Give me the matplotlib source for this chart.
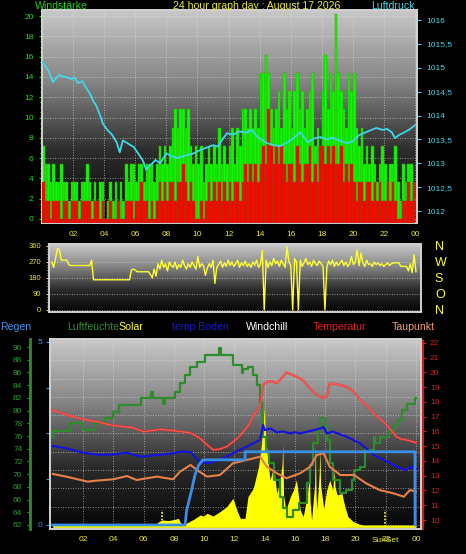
import numpy as np
import matplotlib
matplotlib.use('Agg')
import matplotlib.pyplot as plt
from matplotlib.colors import LinearSegmentedColormap
from matplotlib.ticker import MultipleLocator, FuncFormatter
import matplotlib.transforms as mtransforms

# ---------------------------------------------------------------- data
title = "24 hour graph day : August 17 2026"
hour_ticks = [2, 4, 6, 8, 10, 12, 14, 16, 18, 20, 22, 24]
hour_labels = ['02', '04', '06', '08', '10', '12', '14', '16', '18', '20', '22', '00']

# wind (km/h), one value every 10 minutes
wind_step_h = 1 / 6
gust = [
    7.2, 5.4, 5.4, 3.6, 5.4, 3.6,
    3.6, 5.4, 3.6, 3.6, 1.8, 3.6,
    3.6, 3.6, 1.8, 3.6, 3.6, 5.4,
    3.6, 1.8, 3.6, 1.8, 3.6, 3.6,
    0.0, 1.8, 3.6, 1.8, 3.6, 1.8,
    3.6, 1.8, 5.4, 3.6, 5.4, 5.4,
    3.6, 5.4, 5.4, 3.6, 5.4, 5.4,
    5.4, 3.6, 5.4, 7.2, 5.4, 7.2,
    5.4, 7.2, 9.0, 10.8, 9.0, 10.8,
    10.8, 9.0, 10.8, 7.2, 5.4, 7.2,
    5.4, 7.2, 3.6, 5.4, 7.2, 5.4,
    7.2, 5.4, 9.0, 5.4, 7.2, 5.4,
    7.2, 9.0, 5.4, 9.0, 7.2, 10.8,
    10.8, 9.0, 10.8, 9.0, 10.8, 9.0,
    14.4, 14.4, 16.2, 14.4, 10.8, 9.0,
    10.8, 12.6, 9.0, 14.4, 10.8, 12.6,
    9.0, 12.6, 14.4, 10.8, 12.6, 9.0,
    10.8, 12.6, 14.4, 7.2, 9.0, 7.2,
    12.6, 16.2, 10.8, 14.4, 12.6, 20.2,
    14.4, 12.6, 10.8, 9.0, 14.4, 12.6,
    14.4, 9.0, 7.2, 9.0, 5.4, 7.2,
    5.4, 7.2, 5.4, 3.6, 5.4, 7.2,
    5.4, 3.6, 5.4, 5.4, 7.2, 3.6,
    1.8, 5.4, 3.6, 5.4, 5.4, 3.6,
]
avg = [
    3.6, 1.8, 1.8, 0.0, 1.8, 1.8,
    1.8, 0.0, 1.8, 1.8, 0.0, 1.8,
    1.8, 1.8, 0.0, 1.8, 1.8, 1.8,
    1.8, 0.0, 1.8, 1.8, 0.0, 1.8,
    0.0, 0.0, 1.8, 0.0, 0.0, 1.8,
    0.0, 0.0, 1.8, 1.8, 1.8, 0.0,
    1.8, 1.8, 3.6, 1.8, 1.8, 0.0,
    1.8, 0.0, 1.8, 3.6, 1.8, 3.6,
    1.8, 3.6, 3.6, 1.8, 3.6, 3.6,
    5.4, 3.6, 1.8, 3.6, 1.8, 0.0,
    0.0, 1.8, 0.0, 1.8, 3.6, 1.8,
    3.6, 1.8, 3.6, 1.8, 3.6, 1.8,
    3.6, 1.8, 3.6, 3.6, 1.8, 3.6,
    5.4, 3.6, 5.4, 3.6, 5.4, 3.6,
    5.4, 7.2, 5.4, 10.8, 7.2, 5.4,
    7.2, 5.4, 7.2, 5.4, 3.6, 5.4,
    5.4, 3.6, 7.2, 5.4, 3.6, 5.4,
    5.4, 7.2, 3.6, 5.4, 3.6, 7.2,
    7.2, 5.4, 7.2, 5.4, 7.2, 5.4,
    5.4, 7.2, 3.6, 5.4, 3.6, 5.4,
    3.6, 1.8, 3.6, 3.6, 1.8, 3.6,
    3.6, 1.8, 3.6, 1.8, 3.6, 1.8,
    1.8, 3.6, 1.8, 3.6, 1.8, 0.0,
    0.0, 1.8, 1.8, 3.6, 1.8, 3.6,
]

# air pressure (hPa)
p_t = [0, 0.2, 0.4, 0.7, 0.9, 1.1, 1.3, 1.6, 1.9, 2.1,
       2.3, 2.6, 2.8, 3.1, 3.3, 3.5, 3.8, 3.9, 4.2, 4.5,
       4.8, 5.0, 5.2, 5.5, 5.9, 6.2, 6.5, 6.7, 6.9, 7.1,
       7.3, 7.6, 8.0, 8.3, 8.7, 9.0, 9.3, 9.7, 10.2, 10.6,
       11.0, 11.3, 11.6, 11.9, 12.3, 12.7, 13.1, 13.5, 13.8, 14.1,
       14.5, 14.9, 15.3, 15.7, 16.2, 16.6, 17.1, 17.5, 17.9, 18.3,
       18.7, 19.2, 19.6, 20.0, 20.4, 20.9, 21.5, 21.9, 22.2, 22.5,
       22.7, 23.0, 23.2, 23.6, 24.0]
pressure = [1015.13, 1015.05, 1014.95, 1014.70, 1014.78, 1014.85, 1014.82, 1014.80, 1014.76, 1014.80,
            1014.68, 1014.72, 1014.60, 1014.45, 1014.30, 1014.20, 1013.95, 1013.84, 1013.70, 1013.60,
            1013.44, 1013.23, 1013.48, 1013.42, 1013.34, 1013.20, 1013.05, 1012.86, 1012.95, 1013.00,
            1013.07, 1013.00, 1013.21, 1013.15, 1013.11, 1013.14, 1013.17, 1013.20, 1013.28, 1013.33,
            1013.38, 1013.35, 1013.50, 1013.63, 1013.60, 1013.67, 1013.64, 1013.70, 1013.57, 1013.50,
            1013.42, 1013.38, 1013.36, 1013.42, 1013.53, 1013.65, 1013.44, 1013.52, 1013.55, 1013.50,
            1013.53, 1013.47, 1013.42, 1013.46, 1013.59, 1013.66, 1013.74, 1013.70, 1013.72, 1013.65,
            1013.53, 1013.60, 1013.63, 1013.70, 1013.80]

# wind direction (deg), one value every 7.5 minutes
dir_step_h = 0.125
wind_dir = [
    270, 240, 290, 345, 340, 280, 280, 280,
    280, 255, 250, 250, 250, 250, 250, 250,
    250, 250, 250, 250, 250, 280, 170, 170,
    170, 170, 170, 170, 170, 170, 170, 170,
    170, 170, 170, 170, 170, 170, 170, 170,
    170, 170, 225, 230, 225, 215, 215, 215,
    215, 215, 215, 215, 200, 180, 230, 190,
    260, 230, 280, 240, 260, 220, 270, 250,
    240, 270, 230, 255, 240, 280, 250, 230,
    260, 240, 270, 250, 230, 300, 240, 260,
    250, 195, 235, 260, 240, 280, 150, 240,
    255, 275, 240, 265, 245, 280, 250, 270,
    245, 260, 280, 240, 265, 250, 275, 245,
    260, 240, 270, 250, 280, 240, 255, 335,
    0, 280, 240, 270, 250, 290, 260, 275,
    245, 280, 260, 240, 355, 270, 250, 0,
    290, 270, 0, 280, 245, 265, 290, 255,
    270, 245, 280, 260, 250, 275, 260, 245,
    0, 240, 275, 255, 280, 245, 270, 250,
    265, 280, 250, 270, 245, 260, 300, 255,
    270, 340, 250, 320, 265, 245, 280, 255,
    260, 245, 270, 255, 265, 250, 260, 245,
    255, 265, 250, 260, 265, 265, 265, 265,
    245, 245, 245, 245, 220, 260, 210, 310,
    215,
]
dir_ticks = [0, 90, 180, 270, 360]
dir_letters = ['N', 'O', 'S', 'W', 'N']

# lower chart
legend_labels = ['Regen', 'Luftfeuchte', 'Solar', 'temp Boden', 'Windchill', 'Temperatur', 'Taupunkt']
legend_colors = ['#3f93e6', '#2e8b2e', '#ffff20', '#1a1ad0', '#ffffff', '#e02222', '#f4a070']

temp_t = [0, 1, 2, 3, 3.8, 4.65, 5.3, 6.0, 6.5, 7.1,
          8.0, 8.5, 9.1, 9.7, 10.2, 10.6, 11.0, 11.5, 12.2, 12.6,
          13.0, 13.25, 13.5, 13.7, 13.8, 13.9, 14.15, 14.5, 14.8, 15.1,
          15.45, 15.8, 16.1, 16.5, 16.8, 17.1, 17.45, 17.9, 18.1, 18.3,
          18.8, 19.4, 19.9, 20.3, 20.8, 21.2, 21.7, 22.1, 22.7, 23.0,
          23.4, 24.0]
temp = [17.46, 17.10, 16.83, 16.65, 16.44, 16.33, 16.25, 15.99, 16.05, 16.15,
        16.05, 15.99, 15.90, 15.56, 15.10, 14.75, 14.80, 14.97, 15.54, 15.99,
        16.50, 17.10, 17.40, 17.70, 18.40, 19.15, 19.38, 19.40, 19.27, 19.60,
        20.00, 19.85, 19.72, 19.50, 19.15, 18.80, 18.47, 18.25, 18.40, 19.27,
        19.20, 19.04, 18.70, 18.14, 17.70, 17.23, 16.80, 16.40, 15.65, 15.50,
        15.42, 15.24]
windchill = temp  # identical to the temperature on this summer day

hum_t = [0, 0.05, 1.15, 2.0, 2.2, 2.8, 3.45, 4.0, 4.4, 5.1,
         5.8, 6.5, 6.6, 7.3, 7.4, 8.1, 8.4, 8.75, 9.1, 9.5,
         10.05, 11.0, 11.1, 11.9, 12.5, 12.6, 12.9, 13.25, 13.5, 13.7,
         13.8, 13.9, 14.1, 14.3, 14.6, 15.0, 15.2, 15.5, 15.9, 16.3,
         16.8, 17.0, 17.2, 17.5, 17.65, 18.0, 18.1, 18.3, 18.5, 19.0,
         19.4, 19.75, 19.9, 20.3, 20.6, 21.2, 21.3, 21.6, 22.2, 22.6,
         22.8, 23.05, 23.4, 23.95, 24.0]
hum = [75.9, 76.8, 78.0, 77.0, 77.0, 78.0, 78.8, 79.8, 80.9, 80.9,
       81.9, 82.9, 81.9, 81.0, 81.9, 83.0, 84.3, 85.6, 86.9, 87.7,
       88.7, 89.8, 88.8, 87.2, 85.9, 86.6, 86.9, 85.6, 84.0, 81.4,
       79.3, 75.9, 73.5, 71.8, 69.1, 66.4, 64.6, 63.3, 64.4, 65.4,
       68.6, 71.5, 74.9, 76.9, 78.8, 77.7, 75.4, 71.8, 69.1, 67.0,
       67.5, 69.1, 70.7, 71.2, 73.8, 75.9, 74.9, 75.9, 77.0, 77.7,
       78.5, 80.1, 81.0, 81.9, 81.9]

boden_t = [0, 0.9, 2.0, 3.1, 4.0, 4.9, 5.8, 6.9, 7.95, 8.4,
           9.1, 9.7, 10.2, 11.05, 11.9, 12.8, 13.7, 13.9, 14.0, 14.4,
           14.8, 15.2, 15.7, 16.0, 16.35, 17.0, 17.65, 17.9, 18.1, 18.5,
           19.4, 20.3, 21.2, 22.1, 22.95, 23.3, 23.6, 24.0]
boden = [15.02, 14.86, 14.56, 14.41, 14.45, 14.56, 14.29, 14.41, 14.52, 14.63,
         14.60, 13.95, 13.84, 14.07, 14.52, 14.97, 15.42, 16.44, 16.10, 16.20,
         15.94, 16.00, 15.87, 15.95, 15.87, 16.03, 16.20, 16.30, 15.87, 15.99,
         15.65, 15.20, 14.41, 13.95, 13.50, 13.39, 13.61, 13.46]

dew_t = [0, 0.9, 2.3, 2.9, 4.0, 4.9, 5.55, 6.2, 6.9, 7.95,
         8.4, 9.1, 9.7, 10.2, 11.05, 11.9, 12.8, 13.7, 14.15, 14.8,
         15.45, 16.35, 17.0, 17.45, 17.9, 18.3, 19.0, 19.9, 20.7, 21.6,
         22.5, 23.2, 23.6, 24.0]
dew = [13.12, 12.94, 12.60, 12.67, 12.76, 12.98, 12.71, 12.83, 12.94, 12.76,
       13.27, 13.73, 13.27, 12.94, 13.05, 13.84, 14.07, 14.29, 13.61, 13.17,
       12.83, 13.17, 13.61, 14.41, 14.52, 13.61, 13.05, 13.05, 12.49, 12.03,
       11.81, 11.58, 12.03, 11.92]

rain_t = [0, 8.74, 8.85, 9.1, 9.4, 9.65, 9.93, 12.7, 12.72, 23.93, 23.94]
rain = [0, 0, 0.41, 0.82, 1.37, 1.64, 1.78, 1.78, 2.0, 2.0, 0]

sol_t = [0, 6.7, 6.8, 7.1, 7.3, 7.6, 8.0, 8.3, 8.45, 8.75,
         8.85, 9.3, 9.75, 9.95, 10.2, 10.6, 11.05, 11.5, 11.9, 12.2,
         12.4, 12.7, 12.9, 13.25, 13.6, 13.8, 13.97, 14.03, 14.15, 14.35,
         14.6, 14.8, 15.0, 15.15, 15.2, 15.25, 15.4, 15.7, 15.9, 16.1,
         16.35, 16.55, 16.8, 16.9, 16.95, 17.0, 17.1, 17.3, 17.35, 17.4,
         17.45, 17.6, 17.65, 17.7, 17.9, 18.1, 18.3, 18.5, 18.6, 18.65,
         18.8, 19.1, 19.3, 19.5, 19.85, 20.3, 20.5, 24.0]
sol = [0, 0, 5, 21, 25, 22, 27, 33, 10, 3,
       10, 28, 50, 45, 58, 45, 67, 92, 133, 67,
       33, 33, 142, 183, 292, 408, 585, 475, 375, 225,
       292, 158, 217, 300, 408, 150, 75, 142, 175, 225,
       75, 42, 142, 200, 308, 120, 25, 200, 408, 150,
       75, 250, 375, 200, 83, 175, 225, 175, 275, 190,
       150, 158, 92, 42, 17, 3, 0, 0]
sunrise_h = 7.2
sunset_h = 21.95

# ---------------------------------------------------------------- style
NARROW = ['Liberation Sans Narrow', 'Liberation Sans', 'DejaVu Sans']
REG = ['Liberation Sans', 'DejaVu Sans']
plt.rcParams['font.family'] = NARROW

W, H = 466, 554
fig = plt.figure(figsize=(W / 100, H / 100), dpi=100)
fig.patch.set_facecolor('black')


def px_axes(x0, y0, x1, y1):
    return fig.add_axes([x0 / W, 1 - y1 / H, (x1 - x0) / W, (y1 - y0) / H])


bg_cmap = LinearSegmentedColormap.from_list('bg', ['#050505', '#2c2c2c', '#858585', '#c8c8c8'])
grad = np.linspace(0, 1, 256).reshape(-1, 1)
FRAME = '#d2d2d2'
GRID = dict(color='#e4e4e4', linestyle=(0, (1.2, 1.8)), linewidth=0.6, alpha=0.65)
TICKY = '#e6e62a'


def paint_bg(ax):
    ax.imshow(grad, extent=[0, 1, 0, 1], transform=ax.transAxes, origin='lower',
              aspect='auto', cmap=bg_cmap, zorder=0, interpolation='bilinear')
    for s in ax.spines.values():
        s.set_color(FRAME)
        s.set_linewidth(1.4)
    ax.set_axisbelow(True)


def hide_spines(ax):
    for s in ax.spines.values():
        s.set_visible(False)


# ---------------------------------------------------------------- top: wind + pressure
ax_w = px_axes(42, 10, 417, 223)
paint_bg(ax_w)
ylo_w = -0.4
t_w = np.arange(len(gust)) * wind_step_h
ax_w.bar(t_w, np.array(gust) - ylo_w, bottom=ylo_w, width=wind_step_h, align='edge',
         color='#00ff00', edgecolor='#4f9a10', linewidth=0.35, zorder=2)
ax_w.bar(t_w, np.array(avg) - ylo_w, bottom=ylo_w, width=wind_step_h, align='edge',
         color='#ff0000', edgecolor='#9a4a10', linewidth=0.35, zorder=3)
ax_w.set_xlim(0, 24.12)
ax_w.set_ylim(ylo_w, 20.6)
ax_w.set_yticks(range(0, 21, 2))
ax_w.yaxis.set_minor_locator(MultipleLocator(0.5))
ax_w.tick_params(axis='y', which='both', colors='#22dd22', labelsize=6)
ax_w.tick_params(axis='y', which='major', length=2.5, pad=3.5)
ax_w.tick_params(axis='y', which='minor', length=1.5)
ax_w.set_xticks(hour_ticks)
ax_w.set_xticklabels(hour_labels)
ax_w.tick_params(axis='x', length=0, labelsize=6, labelcolor=TICKY, pad=6)
ax_w.grid(True, **GRID)

ax_p = ax_w.twinx()
hide_spines(ax_p)
ax_p.plot(p_t, pressure, color='#3fd8e8', lw=1.3, zorder=4)
ax_p.set_ylim(1011.75, 1016.21)
ax_p.set_yticks(np.arange(1012, 1016.01, 0.5))
ax_p.yaxis.set_major_formatter(FuncFormatter(lambda v, p: f"{v:g}".replace('.', ',')))
ax_p.tick_params(axis='y', colors='#3fd8e8', labelsize=6, length=3, pad=4)

# ---------------------------------------------------------------- middle: direction
ax_d = px_axes(49, 244, 421, 312)
paint_bg(ax_d)
t_d = np.arange(len(wind_dir)) * dir_step_h
ax_d.plot(t_d, wind_dir, color='#ffff30', lw=1.0, zorder=3)
ax_d.set_xlim(-0.18, 24.33)
ax_d.set_ylim(-11.25, 371)
ax_d.set_xticks([])
ax_d.set_yticks(dir_ticks)
ax_d.yaxis.set_minor_locator(MultipleLocator(15))
ax_d.tick_params(axis='y', which='both', colors=TICKY, labelsize=5.5)
ax_d.tick_params(axis='y', which='major', length=2.5, pad=3)
ax_d.tick_params(axis='y', which='minor', length=1.5)
ax_d.grid(True, axis='y', **GRID)

ax_d2 = ax_d.twinx()
hide_spines(ax_d2)
ax_d2.set_ylim(-11.25, 371)
ax_d2.set_yticks(dir_ticks)
ax_d2.set_yticklabels(dir_letters, family=REG, fontsize=9, color='#ffff30')
ax_d2.tick_params(axis='y', length=0, pad=10)

# ---------------------------------------------------------------- legend row
leg_x = [0, 67, 118, 172, 246, 313, 392]
for lab, col, x in zip(legend_labels, legend_colors, leg_x):
    fig.text(x / W, 1 - 327 / H, lab, color=col, fontsize=7.6, family=REG,
             ha='left', va='center')

# ---------------------------------------------------------------- bottom chart
ax_b = px_axes(50, 339, 421, 529)
paint_bg(ax_b)
ax_b.set_xlim(-0.18, 24.33)
ax_b.set_ylim(-0.11, 5.08)
ax_b.set_xticks(hour_ticks)
ax_b.set_xticklabels(hour_labels)
ax_b.tick_params(axis='x', length=0, labelsize=6, labelcolor=TICKY, pad=5)
ax_b.set_yticks([0, 1.25, 2.5, 3.75, 5])
ax_b.set_yticklabels(['0', '', '', '', '5'])
ax_b.yaxis.set_minor_locator(MultipleLocator(0.5))
ax_b.yaxis.remove_overlapping_locs = False
ax_b.tick_params(axis='y', which='major', colors='#3f93e6', labelsize=6, length=3, pad=2.5)
ax_b.tick_params(axis='y', which='minor', length=0)
ax_b.grid(True, axis='x', which='major', **GRID)
ax_b.grid(True, axis='y', which='minor', **GRID)

trans = mtransforms.blended_transform_factory(ax_b.transData, ax_b.transAxes)
ax_b.text(sunset_h, -0.058, 'SunSet', transform=trans, color=TICKY, fontsize=6,
          ha='center', va='center')

# solar (hidden scale)
ax_s = ax_b.twinx()
ax_s.fill_between(sol_t, sol, -12, color='#ffff00', linewidth=0, zorder=1)
ax_s.vlines([sunrise_h, sunset_h], -12, 75, colors='#ffff40', linestyles=(0, (1, 1)), lw=1.2)
ax_s.set_ylim(-20, 930)
ax_s.axis('off')

# humidity (left, outward)
ax_h = ax_b.twinx()
hide_spines(ax_h)
ax_h.plot(hum_t, hum, color='#2e8b2e', lw=1.6, drawstyle='steps-post', zorder=3)
ax_h.set_ylim(61.37, 91.26)
ax_h.yaxis.tick_left()
ax_h.spines['left'].set_visible(True)
ax_h.spines['left'].set_position(('outward', 14.4))
ax_h.spines['left'].set_color('#2e8b2e')
ax_h.spines['left'].set_linewidth(2)
ax_h.set_yticks(range(62, 91, 2))
ax_h.yaxis.set_minor_locator(MultipleLocator(0.5))
ax_h.tick_params(axis='y', which='both', colors='#2e9b2e', labelsize=6)
ax_h.tick_params(axis='y', which='major', length=2, pad=3.5)
ax_h.tick_params(axis='y', which='minor', length=1)

# temperatures (right)
ax_t = ax_b.twinx()
hide_spines(ax_t)
ax_t.plot(dew_t, dew, color='#e8804a', lw=1.5)
ax_t.plot(boden_t, boden, color='#1414d8', lw=1.6)
ax_t.plot(temp_t, windchill, color='#ffffff', lw=0.6)
ax_t.plot(temp_t, temp, color='#ff2a2a', lw=1.7, alpha=0.75)
ax_t.set_ylim(9.39, 22.27)
ax_t.set_yticks(range(10, 23))
ax_t.yaxis.set_minor_locator(MultipleLocator(0.25))
ax_t.spines['right'].set_visible(True)
ax_t.spines['right'].set_color('#cc2020')
ax_t.spines['right'].set_linestyle((0, (1, 1)))
ax_t.spines['right'].set_linewidth(1.4)
ax_t.spines['right'].set_position(('outward', 1.5))
ax_t.tick_params(axis='y', which='both', colors='#dd1c1c', labelsize=6)
ax_t.tick_params(axis='y', which='major', length=2.5, pad=2.5)
ax_t.tick_params(axis='y', which='minor', length=0)

# rain on top
ax_r = ax_b.twinx()
ax_r.plot(rain_t, rain, color='#3a8ee8', lw=2)
ax_r.set_ylim(-0.11, 5.08)
ax_r.axis('off')

# ---------------------------------------------------------------- header
fig.text(35 / W, 1 - 6 / H, 'Windstärke', color='#22cc22', fontsize=7.6, family=REG,
         ha='left', va='center')
fig.text(257 / W, 1 - 6 / H, title, color='#e8e830', fontsize=7.6, family=REG,
         ha='center', va='center')
fig.text(415 / W, 1 - 6 / H, 'Luftdruck', color='#40d0e0', fontsize=7.6, family=REG,
         ha='right', va='center')

fig.savefig('out.png', dpi=100, facecolor='black')
